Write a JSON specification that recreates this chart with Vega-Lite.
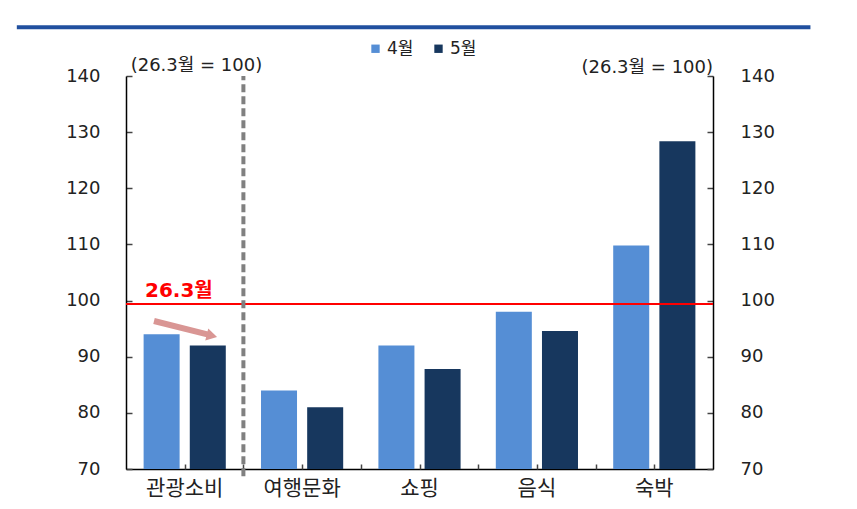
{
  "$schema": "https://vega.github.io/schema/vega-lite/v6.json",
  "width": 587,
  "height": 393,
  "autosize": {"type": "none"},
  "padding": {"left": 126, "top": 76, "right": 144, "bottom": 40},
  "background": "white",
  "config": {"view": {"stroke": null}, "font": "DejaVu Sans"},
  "resolve": {
    "scale": {"x": "independent", "y": "independent"},
    "axis": {"x": "independent", "y": "independent"}
  },
  "layer": [
    {
      "data": {"values": [{"name": "top line"}]},
      "mark": {"type": "rule", "color": "#21509F", "strokeWidth": 4},
      "encoding": {
        "x": {"datum": -0.93, "type": "quantitative", "scale": {"domain": [0, 5]}, "axis": null},
        "x2": {"datum": 5.83},
        "y": {"datum": 148.7, "type": "quantitative", "scale": {"domain": [70, 140], "nice": false, "zero": false}, "axis": null}
      }
    },
    {
      "data": {
        "values": [
          {"category": "관광소비", "month": "4월", "value": 94},
          {"category": "관광소비", "month": "5월", "value": 92},
          {"category": "여행문화", "month": "4월", "value": 84},
          {"category": "여행문화", "month": "5월", "value": 81},
          {"category": "쇼핑", "month": "4월", "value": 92},
          {"category": "쇼핑", "month": "5월", "value": 87.8},
          {"category": "음식", "month": "4월", "value": 98},
          {"category": "음식", "month": "5월", "value": 94.6},
          {"category": "숙박", "month": "4월", "value": 109.8},
          {"category": "숙박", "month": "5월", "value": 128.4}
        ]
      },
      "mark": {"type": "bar"},
      "encoding": {
        "x": {
          "field": "category",
          "type": "nominal",
          "sort": ["관광소비", "여행문화", "쇼핑", "음식", "숙박"],
          "scale": {"paddingInner": 0.3, "paddingOuter": 0.15},
          "axis": {
            "orient": "bottom",
            "title": null,
            "labelAngle": 0,
            "ticks": false,
            "domainColor": "#000000",
            "domainWidth": 1.5,
            "labelFont": "Noto Sans CJK KR",
            "labelFontSize": 21,
            "labelColor": "#222222",
            "labelPadding": 8
          }
        },
        "xOffset": {
          "field": "month",
          "type": "nominal",
          "sort": ["4월", "5월"],
          "scale": {"paddingInner": 0.22, "paddingOuter": 0}
        },
        "y": {
          "field": "value",
          "type": "quantitative",
          "scale": {"domain": [70, 140], "nice": false, "zero": false},
          "axis": {
            "orient": "left",
            "title": null,
            "grid": false,
            "values": [70, 80, 90, 100, 110, 120, 130, 140],
            "tickSize": -6,
            "tickColor": "#444444",
            "tickWidth": 1.5,
            "domainColor": "#000000",
            "domainWidth": 1.5,
            "labelFont": "DejaVu Sans",
            "labelFontSize": 18,
            "labelColor": "#222222",
            "labelPadding": 32
          }
        },
        "y2": {"datum": 70},
        "color": {
          "field": "month",
          "type": "nominal",
          "scale": {"domain": ["4월", "5월"], "range": ["#558ED5", "#17375E"]},
          "legend": {
            "orient": "none",
            "legendX": 241,
            "legendY": -36,
            "direction": "horizontal",
            "title": null,
            "symbolType": "square",
            "symbolSize": 70,
            "symbolStrokeWidth": 0,
            "labelFont": "DejaVu Sans, Noto Sans CJK KR",
            "labelFontSize": 17,
            "labelColor": "#222222",
            "labelOffset": 3,
            "columnPadding": 16
          }
        }
      }
    },
    {
      "data": {"values": [{"base": 99.4}]},
      "mark": {"type": "rule", "color": "#FF0000", "strokeWidth": 2},
      "encoding": {
        "x": {
          "datum": 0,
          "type": "quantitative",
          "scale": {"domain": [0, 5]},
          "axis": {
            "orient": "bottom",
            "title": null,
            "grid": false,
            "domain": false,
            "labels": false,
            "values": [0.5, 1, 1.5, 2, 2.5, 3, 3.5, 4, 4.5],
            "tickSize": -5,
            "tickColor": "#444444",
            "tickWidth": 1.5
          }
        },
        "x2": {"datum": 5},
        "y": {
          "field": "base",
          "type": "quantitative",
          "scale": {"domain": [70, 140], "nice": false, "zero": false},
          "axis": {
            "orient": "right",
            "title": null,
            "grid": false,
            "values": [70, 80, 90, 100, 110, 120, 130, 140],
            "tickSize": -6,
            "tickColor": "#444444",
            "tickWidth": 1.5,
            "domainColor": "#000000",
            "domainWidth": 1.5,
            "labelFont": "DejaVu Sans",
            "labelFontSize": 18,
            "labelColor": "#222222",
            "labelPadding": 33
          }
        }
      }
    },
    {
      "data": {"values": [{"name": "divider"}]},
      "mark": {"type": "rule", "color": "#808080", "strokeWidth": 4, "strokeDash": [8, 4]},
      "encoding": {
        "x": {"datum": 1, "type": "quantitative", "scale": {"domain": [0, 5]}, "axis": null},
        "y": {"datum": 68.7, "type": "quantitative", "scale": {"domain": [70, 140], "nice": false, "zero": false}, "axis": null},
        "y2": {"datum": 140}
      }
    },
    {
      "data": {"values": [{"name": "arrow"}]},
      "mark": {"type": "rule", "color": "#D99694", "strokeWidth": 6},
      "encoding": {
        "x": {"datum": 0.2385, "type": "quantitative", "scale": {"domain": [0, 5]}, "axis": null},
        "x2": {"datum": 0.71},
        "y": {"datum": 96.36, "type": "quantitative", "scale": {"domain": [70, 140], "nice": false, "zero": false}, "axis": null},
        "y2": {"datum": 93.89}
      }
    },
    {
      "data": {"values": [{"name": "arrow head"}]},
      "mark": {"type": "point", "shape": "triangle-right", "filled": true, "opacity": 1, "color": "#D99694", "size": 150, "angle": 14},
      "encoding": {
        "x": {"datum": 0.7317, "type": "quantitative", "scale": {"domain": [0, 5]}, "axis": null},
        "y": {"datum": 93.74, "type": "quantitative", "scale": {"domain": [70, 140], "nice": false, "zero": false}, "axis": null}
      }
    },
    {
      "data": {"values": [{"label": "26.3월"}]},
      "mark": {"type": "text", "align": "left", "baseline": "alphabetic", "font": "DejaVu Sans, Noto Sans CJK KR", "fontWeight": "bold", "fontSize": 20, "color": "#FF0000"},
      "encoding": {
        "x": {"datum": 0.162, "type": "quantitative", "scale": {"domain": [0, 5]}, "axis": null},
        "y": {"datum": 100.6, "type": "quantitative", "scale": {"domain": [70, 140], "nice": false, "zero": false}, "axis": null},
        "text": {"field": "label"}
      }
    },
    {
      "data": {"values": [{"label": "(26.3월  =  100)"}]},
      "mark": {"type": "text", "align": "center", "baseline": "middle", "font": "DejaVu Sans, Noto Sans CJK KR", "fontSize": 18, "color": "#222222"},
      "encoding": {
        "x": {"datum": 0.6, "type": "quantitative", "scale": {"domain": [0, 5]}, "axis": null},
        "y": {"datum": 141.8, "type": "quantitative", "scale": {"domain": [70, 140], "nice": false, "zero": false}, "axis": null},
        "text": {"field": "label"}
      }
    },
    {
      "data": {"values": [{"label": "(26.3월  =  100)"}]},
      "mark": {"type": "text", "align": "center", "baseline": "middle", "font": "DejaVu Sans, Noto Sans CJK KR", "fontSize": 18, "color": "#222222"},
      "encoding": {
        "x": {"datum": 4.44, "type": "quantitative", "scale": {"domain": [0, 5]}, "axis": null},
        "y": {"datum": 141.5, "type": "quantitative", "scale": {"domain": [70, 140], "nice": false, "zero": false}, "axis": null},
        "text": {"field": "label"}
      }
    }
  ]
}
